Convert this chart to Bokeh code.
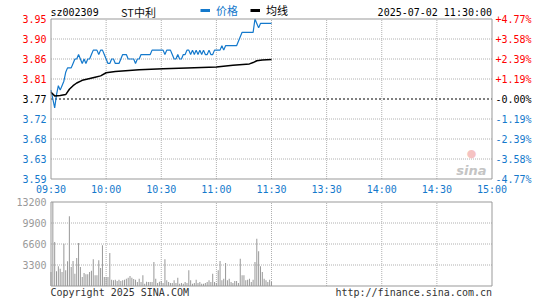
from bokeh.plotting import figure
from bokeh.models import Range1d, Legend, LegendItem
from bokeh.embed import file_html
from bokeh.resources import INLINE
from bokeh.core.properties import value

# ---------------- data ----------------
minutes = list(range(121))  # minutes since 09:30 (lunch break removed)
prices = [
    3.79, 3.77, 3.75, 3.78, 3.80, 3.79, 3.80, 3.81, 3.83, 3.84,
    3.84, 3.84, 3.85, 3.86, 3.86, 3.87, 3.86, 3.85, 3.86, 3.85,
    3.86, 3.86, 3.87, 3.88, 3.88, 3.88, 3.87, 3.88, 3.88, 3.87,
    3.86, 3.85, 3.85, 3.86, 3.86, 3.85, 3.85, 3.85, 3.86, 3.87,
    3.87, 3.87, 3.86, 3.86, 3.86, 3.86, 3.85, 3.86, 3.86, 3.87,
    3.87, 3.87, 3.87, 3.87, 3.87, 3.88, 3.88, 3.88, 3.88, 3.88,
    3.88, 3.88, 3.87, 3.88, 3.88, 3.88, 3.87, 3.86, 3.86, 3.87,
    3.86, 3.86, 3.87, 3.87, 3.88, 3.88, 3.87, 3.88, 3.87, 3.88,
    3.87, 3.88, 3.87, 3.88, 3.87, 3.87, 3.88, 3.87, 3.87, 3.88,
    3.88, 3.88, 3.88, 3.89, 3.88, 3.89, 3.89, 3.89, 3.89, 3.89,
    3.89, 3.89, 3.90, 3.91, 3.92, 3.92, 3.92, 3.92, 3.92, 3.92,
    3.92, 3.95, 3.94, 3.93, 3.94, 3.94, 3.94, 3.94, 3.94, 3.94,
    3.94,
]
avg_minutes = [0, 2, 5, 8, 10, 12, 14, 17, 20, 24, 27, 30, 35, 48, 61, 74, 90, 99, 108, 110, 112, 115, 120]
avg_prices = [3.785, 3.777, 3.778, 3.780, 3.792, 3.800, 3.806, 3.812, 3.815, 3.819, 3.822, 3.829,
              3.832, 3.836, 3.838, 3.840, 3.842, 3.846, 3.849, 3.852, 3.856, 3.858, 3.859]
volumes = [
    2200, 13200, 6900, 2300, 3100, 2700, 2200, 6650, 2460, 3880,
    10950, 3000, 3930, 1940, 4400, 6760, 3000, 1410, 2040, 1830,
    1830, 2200, 2410, 4190, 1680, 1680, 4030, 2830, 6390, 1410,
    1410, 1410, 5190, 1000, 890, 1000, 790, 1000, 790, 890,
    1000, 1150, 1310, 1570, 1310, 1100, 1000, 630, 1150, 630,
    1680, 370, 680, 630, 630, 630, 3770, 1150, 470, 680,
    790, 470, 4190, 890, 630, 470, 470, 890, 470, 1310,
    370, 470, 370, 630, 470, 2460, 890, 370, 470, 1000,
    470, 630, 370, 370, 470, 630, 890, 630, 1940, 630,
    470, 2460, 3930, 890, 1150, 3620, 890, 1150, 630, 470,
    790, 790, 470, 4300, 1680, 1680, 890, 1000, 1150, 630,
    1000, 3770, 7440, 5450, 3100, 2200, 1150, 890, 630, 1000,
    630,
]
prev_close = 3.77
price_ticks = [3.59, 3.635, 3.68, 3.725, 3.77, 3.815, 3.86, 3.905, 3.95]
price_labels = ["3.59", "3.63", "3.68", "3.72", "3.77", "3.81", "3.86", "3.90", "3.95"]
pct_labels = ["-4.77%", "-3.58%", "-2.39%", "-1.19%", "-0.00%", "+1.19%", "+2.39%", "+3.58%", "+4.77%"]
time_ticks = [0, 30, 60, 90, 120, 150, 180, 210, 240]
time_labels = ["09:30", "10:00", "10:30", "11:00", "11:30", "13:30", "14:00", "14:30", "15:00"]
vol_ticks = [0, 3300, 6600, 9900, 13200]
vol_labels = ["", "3300", "6600", "9900", "13200"]
code = "sz002309"
name = "ST中利"
stamp = "2025-07-02 11:30:00"
legend_names = ["价格", "均线"]

# ---------------- layout (pixels) & styles ----------------
W, H = 545, 300
FL, FR = 50.5, 491.5          # panel left / right edges
PT, PB = 18.5, 178.5          # price panel top / bottom
VT, VB = 201.5, 285.5         # volume panel top / bottom
RED = "#ff0000"
BLUE = "#1479cc"
GRAY = "#999999"
GRID = "#b0b0b0"
MONO = "DejaVu Sans Mono"
CJK = "Noto Sans CJK SC"
FS = "10px"
NAN = float("nan")

t0, t1 = time_ticks[0], time_ticks[-1]
p0, p1 = price_ticks[0], price_ticks[-1]
v0, v1 = vol_ticks[0], vol_ticks[-1]
xs = (t1 - t0) / (FR - FL)
ps = (p1 - p0) / (PB - PT)
vs = (v1 - v0) / (VB - VT)


def px(x):  # pixel x -> time units
    return t0 + (x - FL) * xs


def py(y):  # pixel y -> price units
    return p1 - (y - PT) * ps


p = figure(width=W, height=H, output_backend="svg", toolbar_location=None,
           x_axis_location=None, y_axis_location=None, min_border=0,
           x_range=Range1d(px(0), px(W)), y_range=Range1d(py(H), py(0)))
p.extra_y_ranges = {"vol": Range1d(v0 - (H - VB) * vs, v1 + VT * vs)}
p.outline_line_color = None
p.background_fill_color = "white"
p.border_fill_color = "white"
p.grid.visible = False

inner_t = time_ticks[1:-1]
inner_p = [t for t in price_ticks[1:-1] if t != prev_close]
inner_v = vol_ticks[1:-1]

# grids
p.segment(x0=inner_t, x1=inner_t, y0=[p0] * len(inner_t), y1=[p1] * len(inner_t),
          line_color=GRID, line_dash="1 1", line_width=1)
p.segment(x0=[t0] * len(inner_p), x1=[t1] * len(inner_p), y0=inner_p, y1=inner_p,
          line_color=GRID, line_dash="1 1", line_width=1)
p.segment(x0=inner_t, x1=inner_t, y0=[v0] * len(inner_t), y1=[v1] * len(inner_t),
          line_color=GRID, line_dash="1 1", line_width=1, y_range_name="vol")
p.segment(x0=[t0] * len(inner_v), x1=[t1] * len(inner_v), y0=inner_v, y1=inner_v,
          line_color=GRID, line_dash="1 1", line_width=1, y_range_name="vol")
p.segment(x0=[t0], x1=[t1], y0=[prev_close], y1=[prev_close],
          line_color="black", line_dash="2 2", line_width=1)

# series
p.vbar(x=minutes, top=volumes, width=0.55, bottom=0, fill_color=GRAY, line_color=None, y_range_name="vol")
r_price = p.line(minutes, prices, line_color=BLUE, line_width=1.2)
r_avg = p.line(avg_minutes, avg_prices, line_color="black", line_width=1.5)

# panel borders
p.quad(left=[t0], right=[t1], bottom=[p0], top=[p1], fill_color=None, line_color=GRAY, line_width=1)
p.quad(left=[t0], right=[t1], bottom=[v0], top=[v1], fill_color=None, line_color=GRAY, line_width=1,
       y_range_name="vol")

# price axis labels (left) and percentage labels (right)
cols = [RED if t > prev_close else ("black" if t == prev_close else BLUE) for t in price_ticks]
p.text(x=[px(46)] * len(price_ticks), y=price_ticks, text=price_labels, text_color=cols,
       text_align="right", text_baseline="middle", text_font=value(MONO), text_font_size=FS)
p.text(x=[px(495)] * len(price_ticks), y=price_ticks, text=pct_labels, text_color=cols,
       text_align="left", text_baseline="middle", text_font=value(MONO), text_font_size=FS)
# time labels
p.text(x=time_ticks, y=[py(188.5)] * len(time_ticks), text=time_labels, text_color=BLUE,
       text_align="center", text_baseline="middle", text_font=value(MONO), text_font_size=FS)
# volume labels
p.text(x=[px(46)] * len(vol_ticks), y=vol_ticks, text=vol_labels, text_color=GRAY,
       text_align="right", text_baseline="middle", text_font=value(MONO), text_font_size=FS,
       y_range_name="vol")

# header
p.text(x=[px(50)], y=[py(11.5)], text=[code], text_color="black", text_align="left",
       text_baseline="middle", text_font=value(MONO), text_font_size=FS)
p.text(x=[px(120.5)], y=[py(11.5)], text=[name], text_color="#111111", text_align="left",
       text_baseline="middle", text_font=value(CJK), text_font_size="11px")
p.text(x=[px(491.5)], y=[py(11.5)], text=[stamp], text_color="black", text_align="right",
       text_baseline="middle", text_font=value(MONO), text_font_size=FS)

# legends (location = bottom-left corner, measured from the canvas bottom)
sw_price = p.line(x=[NAN, NAN], y=[NAN, NAN], line_color=BLUE, line_width=3)
sw_avg = p.line(x=[NAN, NAN], y=[NAN, NAN], line_color="black", line_width=3)
for lab, rend, col, lx in ((legend_names[0], sw_price, BLUE, 200), (legend_names[1], sw_avg, "black", 250)):
    lg = Legend(items=[LegendItem(label=lab, renderers=[rend])], location=(lx, H - 18.2),
                orientation="horizontal", padding=0, margin=0, spacing=0,
                glyph_width=10, glyph_height=12, label_height=12, label_standoff=6,
                label_text_font=CJK, label_text_font_size="11px", label_text_color=col,
                background_fill_alpha=0, border_line_color=None)
    p.add_layout(lg)

# watermark
p.text(x=[px(471)], y=[py(153)], text=["●"], text_color="#f5c2c2", text_align="center",
       text_baseline="middle", text_font=value("DejaVu Sans"), text_font_size="11px")
p.text(x=[px(486)], y=[py(170)], text=["sina"], text_color="#c4c4c4", text_align="right",
       text_baseline="alphabetic", text_font=value("DejaVu Sans"), text_font_style="bold italic",
       text_font_size="13px")

# footer
p.text(x=[px(50)], y=[py(292)], text=["Copyright 2025 SINA.COM"], text_color="#333333",
       text_align="left", text_baseline="middle", text_font=value(MONO), text_font_size=FS)
p.text(x=[px(491.5)], y=[py(292)], text=["http://finance.sina.com.cn"], text_color="#333333",
       text_align="right", text_baseline="middle", text_font=value(MONO), text_font_size=FS)

open("out.html", "w").write(file_html(p, INLINE))
